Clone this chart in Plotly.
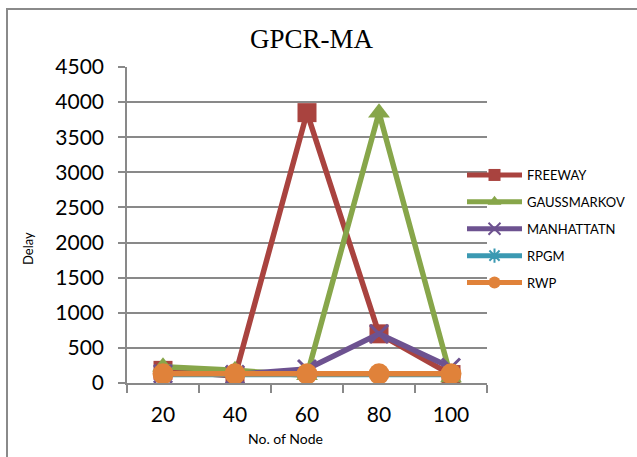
import plotly.graph_objects as go

nodes = ["20", "40", "60", "80", "100"]
freeway = [180, 100, 3850, 700, 120]
gaussmarkov = [230, 180, 110, 3850, 80]
manhattatn = [130, 120, 200, 700, 220]
rpgm = [120, 120, 120, 120, 120]
rwp = [130, 130, 130, 130, 130]

series = [
    ("FREEWAY", freeway, "#A9433F", "square", 19),
    ("GAUSSMARKOV", gaussmarkov, "#87A64A", "triangle-up", 19),
    ("MANHATTATN", manhattatn, "#6D5290", "x-thin-open", 18),
    ("RPGM", rpgm, "#3B99B2", "asterisk-open", 16),
    ("RWP", rwp, "#E0823A", "circle", 21),
]

W, H = 637, 457
L, R, T, B = 127, 150, 67, 74
pw, ph = W - L - R, H - T - B

def px(x):
    return (x - L) / pw

def py(y):
    return (H - B - y) / ph

fig = go.Figure()
for i, (name, vals, col, sym, size) in enumerate(series):
    fig.add_trace(go.Scatter(
        x=nodes, y=vals, name=name, mode="lines+markers",
        legendgroup=str(i),
        line=dict(color=col, width=5.5),
        marker=dict(symbol=sym, size=size, color=col,
                    line=dict(color=col, width=3 if "open" in sym else 0)),
    ))

font_main = "Lato, Carlito, Calibri, sans-serif"
fig.update_layout(
    width=W, height=H,
    margin=dict(l=L, r=R, t=T, b=B, autoexpand=False),
    paper_bgcolor="white", plot_bgcolor="white",
    showlegend=True,
    legend=dict(x=px(462), y=py(160), xanchor="left", yanchor="top",
                font=dict(family=font_main, size=13, color="#000"),
                itemwidth=55, itemsizing="constant", tracegroupgap=7,
                bgcolor="rgba(0,0,0,0)"),
    xaxis=dict(type="category", showgrid=False, showline=True,
               linecolor="#898989", linewidth=1.5,
               ticks="outside", tickson="boundaries", ticklen=8,
               tickcolor="#898989", tickwidth=1.5, ticklabelstandoff=12,
               tickfont=dict(family=font_main, size=21, color="#000"),
               range=[-0.5, 4.5], fixedrange=True),
    yaxis=dict(range=[0, 4500], dtick=500, showgrid=True,
               gridcolor="#898989", gridwidth=1.5,
               showline=True, linecolor="#898989", linewidth=1.5,
               ticks="outside", ticklen=7, tickcolor="#898989", tickwidth=1.5,
               ticklabelstandoff=10,
               tickfont=dict(family=font_main, size=21, color="#000"),
               zeroline=False),
    annotations=[
        dict(text="GPCR-MA", x=px(312), y=py(39), xref="paper", yref="paper",
             xanchor="center", yanchor="middle",
             showarrow=False, font=dict(family="Liberation Serif, Times New Roman, serif", size=27, color="#000")),
        dict(text="No. of Node", x=px(285), y=py(438), xref="paper", yref="paper",
             xanchor="center", yanchor="middle",
             showarrow=False, font=dict(family=font_main, size=14, color="#000")),
        dict(text="Delay", x=px(28), y=py(248), xref="paper", yref="paper",
             xanchor="center", yanchor="middle",
             showarrow=False, textangle=-90, font=dict(family=font_main, size=13, color="#000")),
    ],
    shapes=[
        dict(type="line", xref="paper", yref="paper", x0=px(7), x1=px(7), y0=py(9), y1=py(460),
             line=dict(color="#8a8a8a", width=2)),
        dict(type="line", xref="paper", yref="paper", x0=px(6), x1=px(640), y0=py(9), y1=py(9),
             line=dict(color="#8a8a8a", width=2)),
    ],
)

fig.write_html("out.html")
